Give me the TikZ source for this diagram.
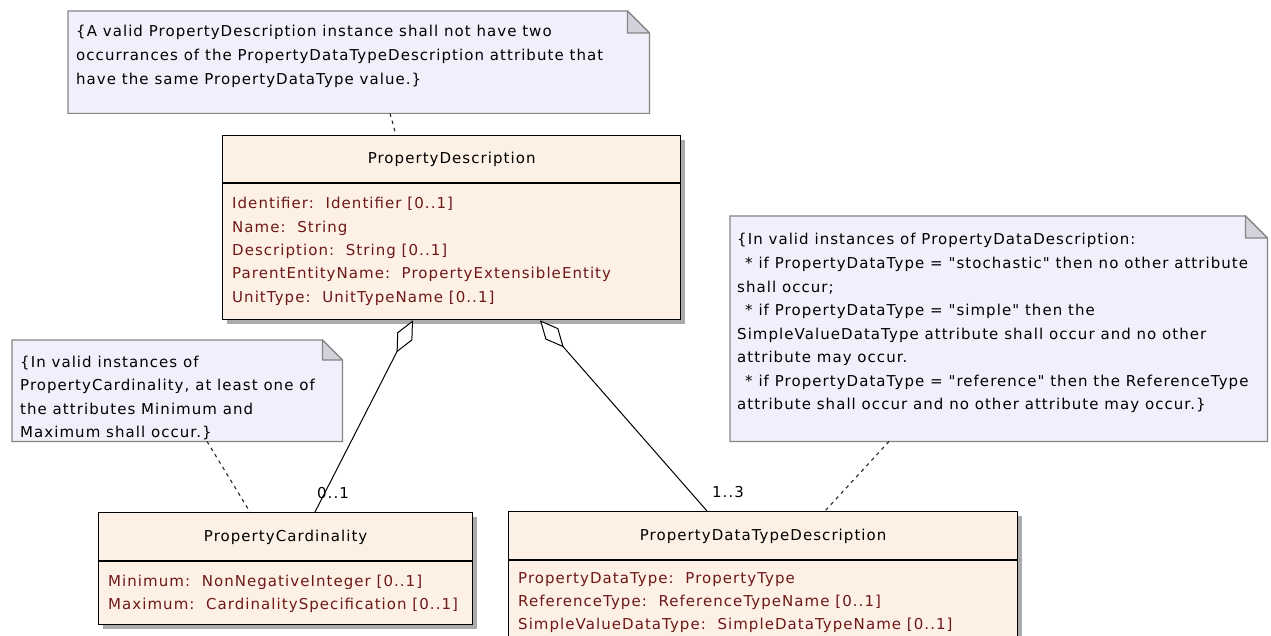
\documentclass[tikz,border=0pt]{standalone}
\usepackage{fontspec}
\setmainfont{DejaVu Sans}[LetterSpace=7,Ligatures=TeXOff]
\usetikzlibrary{arrows.meta,calc,shadows}
\definecolor{classfill}{HTML}{FCF1E4}
\definecolor{notefill}{HTML}{F0F0FC}
\definecolor{notegray}{HTML}{858585}
\definecolor{foldfill}{HTML}{D2D2DC}
\definecolor{attrcol}{HTML}{6E1818}
\definecolor{shadowcol}{HTML}{ABABAB}
\newcommand\drawnote[2]{%
  \draw[noteline] (#1.south west) -- (#1.north west) -- ([xshift=-#2pt]#1.north east) -- ([yshift=-#2pt]#1.north east) -- (#1.south east) -- cycle;
  \draw[foldst] ([xshift=-#2pt]#1.north east) -- ([xshift=-#2pt,yshift=-#2pt]#1.north east) -- ([yshift=-#2pt]#1.north east) -- cycle;}
\begin{document}
\begin{tikzpicture}[x=1pt,y=-1pt,
  txt/.style={font=\fontsize{15}{18}\selectfont, inner sep=0pt, anchor=base west},
  attr/.style={txt, text=attrcol},
  ttl/.style={font=\fontsize{15}{18}\selectfont, inner sep=0pt, anchor=base},
  classbox/.style={draw=black, line width=1.3pt, fill=classfill, anchor=north west, inner sep=0pt,
    drop shadow={shadow xshift=4pt, shadow yshift=-4pt, fill=shadowcol, opacity=1}},
  noteanchor/.style={anchor=north west, inner sep=0pt, draw=none, fill=none},
  noteline/.style={draw=notegray, line width=1.2pt, fill=notefill},
  foldst/.style={draw=notegray, line width=1.2pt, fill=foldfill, line join=round},
  sep/.style={draw=black, line width=1.3pt},
  aggr/.style={draw=black, line width=1pt, {Diamond[length=36pt,width=17pt,fill=white,line width=1pt]}-},
  anchorline/.style={draw=black!85, line width=1.1pt, dash pattern=on 3.5pt off 4pt},
  mult/.style={font=\fontsize{15}{18}\selectfont, inner sep=0pt, anchor=base}
]
\useasboundingbox (0,0) rectangle (1271,636);
\fill[white] (0,0) rectangle (1271,636);
\clip (0,0) rectangle (1271,636);

% ---------- notes ----------
\node[noteanchor, minimum width=581pt, minimum height=102pt] (n1) at (68,11) {};
\drawnote{n1}{22}
\node[txt] (n1a) at (76,37) {\{A valid PropertyDescription instance shall not have two};
\node[txt] (n1b) at (76,61) {occurrances of the PropertyDataTypeDescription attribute that};
\node[txt] (n1c) at (76,85) {have the same PropertyDataType value.\}};

\node[noteanchor, minimum width=330pt, minimum height=101pt] (n2) at (12,340) {};
\drawnote{n2}{20}
\node[txt] (n2a) at (20,367) {\{In valid instances of};
\node[txt] (n2b) at (20,390.5) {PropertyCardinality, at least one of};
\node[txt] (n2c) at (20,414) {the attributes Minimum and};
\node[txt] (n2d) at (20,437.5) {Maximum shall occur.\}};

\node[noteanchor, minimum width=537pt, minimum height=225pt] (n3) at (730,216) {};
\drawnote{n3}{22}
\node[txt] (n3a) at (737,245) {\{In valid instances of PropertyDataDescription:};
\node[txt] (n3b) at (737,268.5) {\hspace{8pt}* if PropertyDataType = "stochastic" then no other attribute};
\node[txt] (n3c) at (737,292) {shall occur;};
\node[txt] (n3d) at (737,315.5) {\hspace{8pt}* if PropertyDataType = "simple" then the};
\node[txt] (n3e) at (737,339) {SimpleValueDataType attribute shall occur and no other};
\node[txt] (n3f) at (737,362.5) {attribute may occur.};
\node[txt] (n3g) at (737,386) {\hspace{8pt}* if PropertyDataType = "reference" then the ReferenceType};
\node[txt] (n3h) at (737,409.5) {attribute shall occur and no other attribute may occur.\}};

% ---------- classes ----------
\node[classbox, minimum width=458pt, minimum height=184pt] (pd) at (222,135) {};
\draw[sep] ($(pd.north west)+(0,48)$) -- ($(pd.north east)+(0,48)$);
\node[ttl] (pdt) at ($(pd.north)+(0,29)$) {PropertyDescription};
\node[attr] (pd1) at (232,209) {Identifier:\ \ Identifier [0..1]};
\node[attr] (pd2) at (232,232.3) {Name:\ \ String};
\node[attr] (pd3) at (232,255.6) {Description:\ \ String [0..1]};
\node[attr] (pd4) at (232,278.9) {ParentEntityName:\ \ PropertyExtensibleEntity};
\node[attr] (pd5) at (232,302.2) {UnitType:\ \ UnitTypeName [0..1]};

\node[classbox, minimum width=374pt, minimum height=112pt] (pc) at (98,512) {};
\draw[sep] ($(pc.north west)+(0,49)$) -- ($(pc.north east)+(0,49)$);
\node[ttl] (pct) at ($(pc.north)+(0,29)$) {PropertyCardinality};
\node[attr] (pc1) at (108,586) {Minimum:\ \ NonNegativeInteger [0..1]};
\node[attr] (pc2) at (108,609) {Maximum:\ \ CardinalitySpecification [0..1]};

\node[classbox, minimum width=509pt, minimum height=150pt] (pdtd) at (508,511) {};
\draw[sep] ($(pdtd.north west)+(0,49)$) -- ($(pdtd.north east)+(0,49)$);
\node[ttl] (pdtdt) at ($(pdtd.north)+(0,29)$) {PropertyDataTypeDescription};
\node[attr] (pdtd1) at (518,583) {PropertyDataType:\ \ PropertyType};
\node[attr] (pdtd2) at (518,606) {ReferenceType:\ \ ReferenceTypeName [0..1]};
\node[attr] (pdtd3) at (518,629) {SimpleValueDataType:\ \ SimpleDataTypeName [0..1]};

% ---------- connectors ----------
\draw[aggr] ($(pd.south west)+(191,0)$) -- ($(pc.north west)+(217,0)$);
\draw[aggr] ($(pd.south west)+(318,0)$) -- ($(pdtd.north west)+(199,0)$);
\node[mult] (m1) at (333,498) {0..1};
\node[mult] (m2) at (728,497) {1..3};

\draw[anchorline] ($(n1.south west)+(322,0)$) -- ($(pd.north west)+(174,0)$);
\draw[anchorline] ($(n2.south west)+(195,0)$) -- ($(pc.north west)+(152,0)$);
\draw[anchorline] ($(n3.south west)+(159,0)$) -- ($(pdtd.north west)+(317,0)$);
\end{tikzpicture}
\end{document}
